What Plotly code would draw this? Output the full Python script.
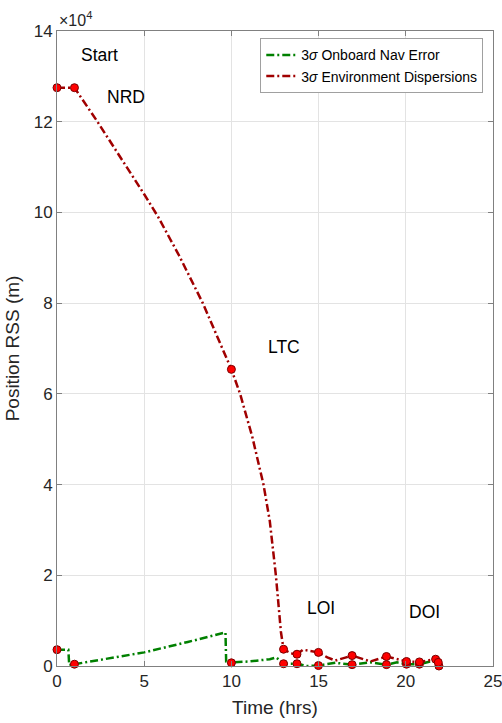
import plotly.graph_objects as go

# ---- data (time in hrs, position RSS in m) ----
red_t = [0, 1, 2.32, 3.5, 5.0, 5.8, 7.0, 8.36, 9.2, 10.0, 10.5, 11.2, 11.84, 12.2, 12.55,
         12.84, 12.99, 13.4, 13.76, 14.1, 14.99, 15.5, 15.96, 16.92, 17.97, 18.89,
         20.04, 20.78, 21.71, 21.86]
red_v = [127500, 127500, 120000, 113000, 104000, 99000, 90500, 80000, 72700, 65400,
         60000, 50500, 40000, 32000, 20000,
         7500, 3700, 2800, 2600, 3600, 3000, 1900, 1200, 2300, 1000, 2100,
         1000, 900, 1500, 800]

green_t = [0, 0.65, 0.7, 1, 3, 5, 7.5, 9.66, 9.7, 10, 11, 12.2, 12.57, 12.99, 13.76,
           14.3, 14.99, 15.96, 16.92, 17.97, 18.89, 19.5, 20.04, 20.78, 21.6, 21.9]
green_v = [3600, 3600, 200, 400, 1600, 3000, 5300, 7400, 1000, 800, 1000, 1500, 1900,
           500, 500, 0, 100, 700, 300, 800, 300, 800, 400, 400, 1200, 100]

red_evt_t = [0, 1, 10, 12.99, 13.76, 14.99, 16.92, 18.89, 20.04, 20.78, 21.71, 21.86]
red_evt_v = [127500, 127500, 65400, 3700, 2600, 3000, 2300, 2100, 1000, 900, 1500, 800]
green_evt_t = [0, 1, 10, 12.99, 13.76, 14.99, 16.92, 18.89, 20.04, 20.78, 21.9]
green_evt_v = [3600, 400, 700, 500, 500, 100, 300, 300, 400, 400, 0]

labels = ["Start", "NRD", "LTC", "LOI", "DOI"]
label_t = [2.43, 3.95, 13.03, 15.13, 21.07]
label_v = [134600, 125400, 70300, 12800, 11900]

xticks = [0, 5, 10, 15, 20, 25]
yticks = [0, 20000, 40000, 60000, 80000, 100000, 120000, 140000]
ytick_text = ["0", "2", "4", "6", "8", "10", "12", "14"]

FONT = "Liberation Sans, Arial, sans-serif"
GREEN = "#008000"
DRED = "#a00000"
DASH = "8px,3px,2px,3px"

fig = go.Figure()
fig.add_trace(go.Scatter(x=green_t, y=green_v, mode="lines",
                         name="3<i>σ</i> Onboard Nav Error",
                         line=dict(color=GREEN, width=2.5, dash=DASH)))
fig.add_trace(go.Scatter(x=red_t, y=red_v, mode="lines",
                         name="3<i>σ</i> Environment Dispersions",
                         line=dict(color=DRED, width=2.5, dash=DASH)))
marker = dict(color="#ff0000", size=8, line=dict(color="#7a0000", width=1))
fig.add_trace(go.Scatter(x=green_evt_t, y=green_evt_v, mode="markers", marker=marker,
                         showlegend=False, cliponaxis=False))
fig.add_trace(go.Scatter(x=red_evt_t, y=red_evt_v, mode="markers", marker=marker,
                         showlegend=False, cliponaxis=False))

for txt, t, v in zip(labels, label_t, label_v):
    fig.add_annotation(x=t, y=v, text=txt, showarrow=False,
                       font=dict(family=FONT, size=17.5, color="#000000"))

fig.add_annotation(xref="paper", yref="paper", x=0, y=1.0, xanchor="left", yanchor="bottom",
                   text="×10<sup>4</sup>", showarrow=False,
                   font=dict(family=FONT, size=16, color="#262626"))

axis_common = dict(showline=True, linecolor="#808080", linewidth=1, mirror="allticks",
                   ticks="inside", ticklen=5, tickcolor="#808080",
                   showgrid=True, gridcolor="#e3e3e3", gridwidth=1, zeroline=False,
                   ticklabeloverflow="allow",
                   tickfont=dict(family=FONT, size=17, color="#262626"))

fig.update_xaxes(range=[0, 25], tickvals=xticks,
                 title=dict(text="Time (hrs)", standoff=10,
                            font=dict(family=FONT, size=19, color="#262626")),
                 **axis_common)
fig.update_yaxes(range=[0, 140000], tickvals=yticks, ticktext=ytick_text,
                 title=dict(text="Position RSS (m)", standoff=9,
                            font=dict(family=FONT, size=19, color="#262626")),
                 **axis_common)

fig.update_layout(
    width=502, height=723,
    margin=dict(l=57.3, r=9.3, t=30.7, b=56.7, autoexpand=False),
    paper_bgcolor="white", plot_bgcolor="white",
    showlegend=True,
    legend=dict(x=0.9777, y=0.9885, xanchor="right", yanchor="top",
                bgcolor="white", bordercolor="#a0a0a0", borderwidth=1,
                font=dict(family=FONT, size=14, color="#000000"),
                tracegroupgap=0, itemwidth=30),
)

fig.write_html("out.html")
